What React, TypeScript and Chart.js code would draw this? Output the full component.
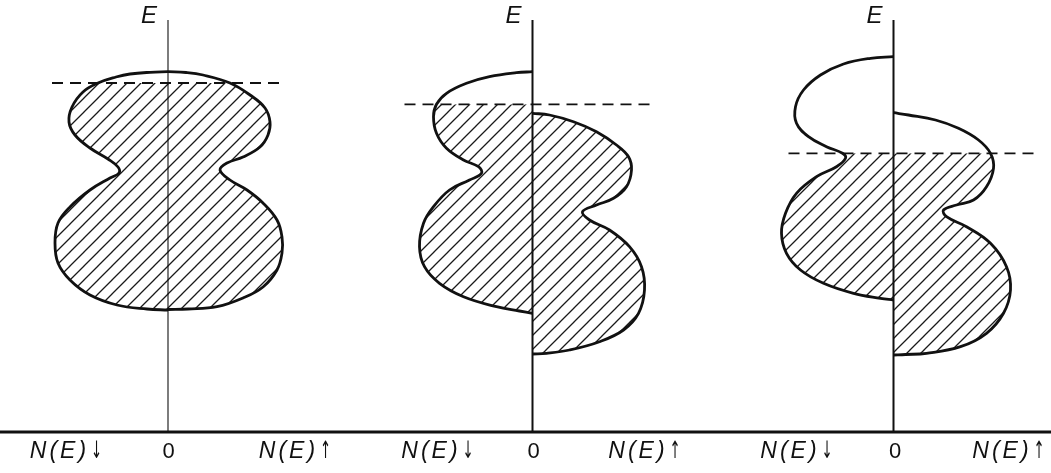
import { useEffect, useRef } from "react";
import { Chart, registerables } from "chart.js";

Chart.register(...registerables);

// Spin-resolved densities of states N(E) for three cases.
// Energies E ascend from the band bottom to the band top; N is the density magnitude.

// Panel 1: paramagnet, identical spin-down and spin-up bands
const p1DownE = [12.2, 12.3, 12.7, 13.7, 15.2, 16.9, 18.9, 20.9, 22.5, 24.2, 25.4, 25.9, 26.5, 27.3, 28.4, 29.7, 31.0, 32.5, 34.0, 34.9, 35.5, 35.8, 35.97, 36.03];
const p1DownN = [0, 2.1, 5.1, 7.8, 9.8, 11.0, 11.3, 11.0, 9.8, 7.8, 5.8, 4.9, 5.0, 6.0, 7.8, 9.3, 9.9, 9.6, 8.5, 7.0, 5.2, 3.8, 1.8, 0];
const p1UpE = [12.25, 12.3, 12.53, 13.4, 14.5, 16.2, 17.9, 19.5, 21.2, 22.9, 24.2, 25.2, 26.2, 26.9, 27.5, 28.5, 29.7, 31.0, 32.4, 33.7, 34.9, 35.7, 35.95, 36.03];
const p1UpN = [0, 2.0, 4.9, 7.5, 9.5, 10.9, 11.4, 11.4, 10.9, 9.5, 7.9, 6.2, 5.2, 5.9, 7.5, 9.2, 10.0, 10.2, 9.7, 8.2, 6.2, 3.5, 1.8, 0];

// Panel 2: weak ferromagnet, spin-up band shifted down
const p2DownE = [11.87, 12.1, 12.53, 13.53, 14.87, 16.53, 18.53, 20.87, 22.53, 24.2, 25.2, 25.87, 26.53, 27.2, 28.37, 29.87, 31.53, 32.77, 33.87, 34.87, 35.53, 35.93, 36.03];
const p2DownN = [0, 1.3, 3.6, 6.9, 9.3, 10.8, 11.3, 10.9, 9.9, 8.3, 6.3, 5.1, 5.4, 6.9, 8.6, 9.6, 9.9, 9.6, 8.6, 6.6, 4.3, 1.6, 0];
const p2UpE = [7.8, 7.87, 8.2, 9.03, 10.2, 11.87, 14.2, 16.53, 18.53, 20.2, 21.2, 22.03, 22.7, 23.37, 24.53, 26.2, 27.53, 28.7, 30.03, 31.03, 31.7, 31.87];
const p2UpN = [0, 1.4, 3.7, 6.7, 9.1, 10.6, 11.2, 10.9, 9.7, 7.7, 5.7, 5.0, 6.4, 8.1, 9.4, 9.9, 9.6, 8.4, 6.4, 4.1, 1.7, 0];

// Panel 3: strong ferromagnet, larger exchange splitting
const p3DownE = [13.2, 13.37, 13.87, 14.87, 16.2, 17.87, 19.87, 21.87, 23.87, 25.53, 26.53, 27.37, 27.87, 28.53, 29.53, 30.87, 32.53, 34.2, 35.7, 36.8, 37.37, 37.53];
const p3DownN = [0, 1.3, 4.0, 7.0, 9.3, 10.7, 11.2, 10.8, 9.7, 7.7, 5.7, 4.8, 5.1, 6.7, 8.5, 9.7, 9.8, 9.0, 7.3, 5.0, 2.3, 0];
const p3UpE = [7.7, 7.75, 7.87, 8.53, 9.87, 11.87, 14.2, 16.53, 18.87, 20.53, 21.53, 22.2, 22.7, 23.2, 24.53, 26.37, 27.87, 29.2, 30.37, 31.2, 31.7, 31.93];
const p3UpN = [0, 1.2, 3.3, 6.7, 9.3, 11.0, 11.7, 11.3, 9.7, 7.3, 5.3, 5.0, 6.3, 8.0, 9.3, 10.0, 9.7, 8.5, 6.5, 4.2, 1.5, 0];

// Fermi level of each panel and the N extent of its dashed marker
const fermiLevels = [34.9, 32.77, 27.87];
const fermiSpanLeft = [-11.6, -12.8, -10.5];
const fermiSpanRight = [11.7, 12.2, 14.4];

// Axis text
const axisTitle = "E";
const axisTickLabels = ["N(E)", "0", "N(E)"];
const axisTickArrows = ["\u2193", "", "\u2191"];
const axisTop = 41.2;

// Layout: pixel position of each panel's E axis and the drawing scale
const W = 1051;
const H = 473;
const PX_PER_UNIT = 10;
const PANEL_AXIS_PX = [168, 532.5, 893.5];
const BASELINE_PX = 432;
const AXIS_WIDTH = [1.1, 2, 2];
// label offsets (in N units) for the down / zero / up tick labels of each panel
const LABEL_OFFSETS = [
  [-10.2, 0.05, 12.7],
  [-9.5, 0.1, 11.2],
  [-9.7, 0.15, 11.5],
];

type Curve = { e: number[]; n: number[] };
const curves: { down: Curve; up: Curve }[] = [
  { down: { e: p1DownE, n: p1DownN }, up: { e: p1UpE, n: p1UpN } },
  { down: { e: p2DownE, n: p2DownN }, up: { e: p2UpE, n: p2UpN } },
  { down: { e: p3DownE, n: p3DownN }, up: { e: p3UpE, n: p3UpN } },
];

function toPoints(c: Curve, sign: number, maxE = Infinity) {
  const out: { x: number; y: number }[] = [];
  c.e.forEach((e, i) => {
    if (e <= maxE + 1e-9) out.push({ x: sign * c.n[i], y: e });
  });
  return out;
}

function makeHatch(): CanvasPattern | string {
  const s = 14;
  const c = document.createElement("canvas");
  c.width = s;
  c.height = s;
  const g = c.getContext("2d");
  if (!g) return "rgba(0,0,0,0.2)";
  g.strokeStyle = "#1a1a1a";
  g.lineWidth = 1.3;
  g.beginPath();
  g.moveTo(-2, s + 2);
  g.lineTo(s + 2, -2);
  g.moveTo(-2, 2);
  g.lineTo(2, -2);
  g.moveTo(s - 2, s + 2);
  g.lineTo(s + 2, s - 2);
  g.stroke();
  const p = g.createPattern(c, "repeat");
  return p || "rgba(0,0,0,0.2)";
}

const INK = "#111";
const LABEL_FONT = 'italic 23px "Liberation Sans", Arial, sans-serif';
const ARROW_FONT = '24px "DejaVu Sans", sans-serif';
const ARROW_SQUEEZE = 0.55;

const textPlugin = {
  id: "dosText",
  afterDraw(chart: any) {
    const ctx: CanvasRenderingContext2D = chart.ctx;
    const ys = chart.scales.y;
    const area = chart.chartArea;
    ctx.save();
    // common energy baseline
    const yb = ys.getPixelForValue(0);
    ctx.strokeStyle = INK;
    ctx.lineWidth = 3;
    ctx.beginPath();
    ctx.moveTo(area.left, yb);
    ctx.lineTo(area.right, yb);
    ctx.stroke();

    ctx.fillStyle = INK;
    ctx.textBaseline = "middle";
    for (let i = 0; i < 3; i++) {
      const xs = chart.scales["x" + (i + 1)];
      // E title above each axis
      ctx.textAlign = "center";
      ctx.font = 'italic 24px "Liberation Sans", Arial, sans-serif';
      (ctx as any).letterSpacing = "0px";
      ctx.fillText(axisTitle, xs.getPixelForValue(-1.9), ys.getPixelForValue(41.6));
      // tick labels under the baseline
      const ty = ys.getPixelForValue(-2.0);
      axisTickLabels.forEach((t, k) => {
        const cx = xs.getPixelForValue(LABEL_OFFSETS[i][k]);
        if (t === "0") {
          ctx.textAlign = "center";
          ctx.font = '22px "Liberation Sans", Arial, sans-serif';
          (ctx as any).letterSpacing = "0px";
          ctx.fillText(t, cx, ty);
          return;
        }
        const arrow = axisTickArrows[k];
        ctx.textAlign = "left";
        ctx.font = LABEL_FONT;
        (ctx as any).letterSpacing = "3px";
        const wText = ctx.measureText(t).width;
        ctx.font = ARROW_FONT;
        (ctx as any).letterSpacing = "0px";
        const wArrow = ctx.measureText(arrow).width * ARROW_SQUEEZE;
        const gap = 2;
        const x0 = cx - (wText + gap + wArrow) / 2;
        ctx.font = LABEL_FONT;
        (ctx as any).letterSpacing = "3px";
        ctx.fillText(t, x0, ty);
        ctx.save();
        ctx.font = ARROW_FONT;
        (ctx as any).letterSpacing = "0px";
        ctx.translate(x0 + wText + gap, ty);
        ctx.scale(ARROW_SQUEEZE, 1);
        ctx.fillText(arrow, 0, 0);
        ctx.restore();
      });
    }
    ctx.restore();
  },
};

export default function App() {
  const ref = useRef<HTMLCanvasElement | null>(null);

  useEffect(() => {
    document.body.style.margin = "0";
    const canvas = ref.current;
    if (!canvas) return;
    const hatch = makeHatch();

    const datasets: any[] = [];
    curves.forEach((c, i) => {
      const xAxisID = "x" + (i + 1);
      const ef = fermiLevels[i];
      const common = { xAxisID, yAxisID: "y", pointRadius: 0, pointHoverRadius: 0 };
      // occupied states (below the Fermi level), hatched
      datasets.push({
        ...common,
        label: "occupied down " + (i + 1),
        data: toPoints(c.down, -1, ef),
        fill: "origin",
        backgroundColor: hatch,
        borderColor: "rgba(0,0,0,0)",
        borderWidth: 0,
        tension: 0.4,
        order: 5,
      });
      datasets.push({
        ...common,
        label: "occupied up " + (i + 1),
        data: toPoints(c.up, 1, ef),
        fill: "origin",
        backgroundColor: hatch,
        borderColor: "rgba(0,0,0,0)",
        borderWidth: 0,
        tension: 0.4,
        order: 5,
      });
      // full DOS outlines
      datasets.push({
        ...common,
        label: "N down " + (i + 1),
        data: toPoints(c.down, -1),
        fill: false,
        borderColor: INK,
        borderWidth: 2.8,
        tension: 0.4,
        order: 1,
      });
      datasets.push({
        ...common,
        label: "N up " + (i + 1),
        data: toPoints(c.up, 1),
        fill: false,
        borderColor: INK,
        borderWidth: 2.8,
        tension: 0.4,
        order: 1,
      });
      // Fermi level
      datasets.push({
        ...common,
        label: "E_F " + (i + 1),
        data: [
          { x: fermiSpanLeft[i], y: ef },
          { x: fermiSpanRight[i], y: ef },
        ],
        fill: false,
        borderColor: INK,
        borderWidth: 1.8,
        borderDash: [11, 7],
        tension: 0,
        order: 2,
      });
      // energy axis
      datasets.push({
        ...common,
        label: "E axis " + (i + 1),
        data: [
          { x: 0, y: 0 },
          { x: 0, y: axisTop },
        ],
        fill: false,
        borderColor: INK,
        borderWidth: AXIS_WIDTH[i],
        tension: 0,
        order: 2,
      });
    });

    const scales: any = {
      y: {
        type: "linear",
        min: -(H - BASELINE_PX) / PX_PER_UNIT,
        max: BASELINE_PX / PX_PER_UNIT,
        display: false,
      },
    };
    PANEL_AXIS_PX.forEach((px, i) => {
      scales["x" + (i + 1)] = {
        type: "linear",
        axis: "x",
        position: "bottom",
        min: -px / PX_PER_UNIT,
        max: (W - px) / PX_PER_UNIT,
        display: false,
      };
    });

    const chart = new Chart(canvas, {
      type: "line",
      data: { datasets },
      options: {
        indexAxis: "y",
        responsive: false,
        animation: false,
        events: [],
        layout: { padding: 0 },
        scales,
        plugins: {
          legend: { display: false },
          tooltip: { enabled: false },
        },
      } as any,
      plugins: [textPlugin],
    });
    return () => chart.destroy();
  }, []);

  return (
    <div style={{ width: W, height: H, background: "#fff" }}>
      <canvas ref={ref} width={W} height={H} style={{ display: "block" }} />
    </div>
  );
}
